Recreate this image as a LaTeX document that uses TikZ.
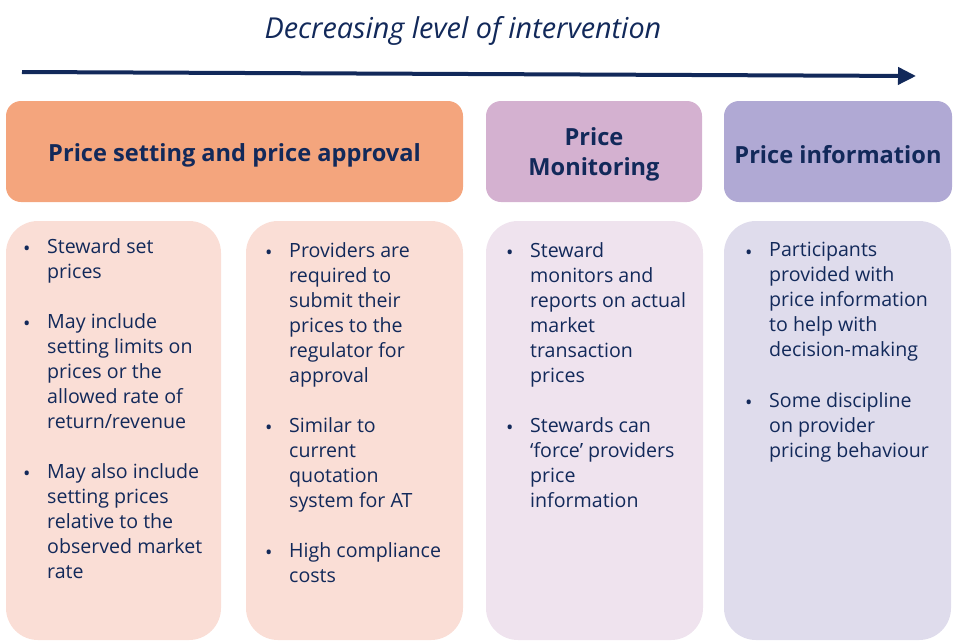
\documentclass[tikz,border=0pt]{standalone}
\usepackage{fontspec}
\setmainfont{Open Sans}
\usetikzlibrary{arrows.meta}
\definecolor{navy}{HTML}{12295A}
\definecolor{hOrange}{HTML}{F4A57D}
\definecolor{hMauve}{HTML}{D4B1D0}
\definecolor{hLav}{HTML}{B0A9D4}
\definecolor{bPink}{HTML}{FADED6}
\definecolor{bMauve}{HTML}{EFE3EE}
\definecolor{bLav}{HTML}{DFDCEC}
\tikzset{
  head/.style={rounded corners=15pt, draw=none},
  body/.style={rounded corners=32pt, draw=none},
  htxt/.style={text=navy, font=\bfseries\fontsize{23.6}{30}\selectfont, align=center, inner sep=0pt},
  txt/.style={text=navy, font=\fontsize{19.6}{25}\selectfont, align=left, anchor=north west, inner sep=0pt},
  bul/.style={text=navy, font=\fontsize{19.6}{25}\selectfont, anchor=north west, inner sep=0pt},
}
\newcommand\itm[4]{%
  \node[bul] (#1b) at (#2,#3) {\strut\textbullet};
  \node[txt] (#1) at ({#2+24},#3) {#4};
}
\begin{document}
\begin{tikzpicture}[x=1pt,y=-1pt]
\useasboundingbox (0,0) rectangle (960,643);
% title
\node[text=navy, font=\itshape\fontsize{28.8}{32}\selectfont, inner sep=0pt] (title) at (463,31) {Decreasing level of intervention};
% arrow
\coordinate (as) at (22,72);
\coordinate (ae) at (916,76);
\draw[navy, line width=4pt, -{Triangle[length=18pt,width=17pt]}] (as) -- (ae);
% headers
\fill[hOrange, head] (6,101) rectangle (463,202);
\fill[hMauve, head] (486,101) rectangle (702,202);
\fill[hLav, head] (724,101) rectangle (952,202);
\node[htxt] (h1) at (234.5,155) {Price setting and price approval};
\node[htxt] (h2) at (594,154) {Price\\Monitoring};
\node[htxt] (h3) at (838,155) {Price information};
% bodies
\fill[bPink, body] (6,221) rectangle (221,640);
\fill[bPink, body] (246,221) rectangle (463,640);
\fill[bMauve, body] (486,221) rectangle (703,640);
\fill[bLav, body] (724,221) rectangle (951,640);
% box 1
\itm{a1}{23}{238}{Steward set\\prices}
\itm{a2}{23}{313}{May include\\setting limits on\\prices or the\\allowed rate of\\return/revenue}
\itm{a3}{23}{463}{May also include\\setting prices\\relative to the\\observed market\\rate}
% box 2
\itm{b1}{265}{242}{Providers are\\required to\\submit their\\prices to the\\regulator for\\approval}
\itm{b2}{265}{417}{Similar to\\current\\quotation\\system for AT}
\itm{b3}{265}{542}{High compliance\\costs}
% box 3
\itm{c1}{506}{242}{Steward\\monitors and\\reports on actual\\market\\transaction\\prices}
\itm{c2}{506}{417}{Stewards can\\‘force’ providers\\price\\information}
% box 4
\itm{d1}{745}{242}{Participants\\provided with\\price information\\to help with\\decision-making}
\itm{d2}{745}{392}{Some discipline\\on provider\\pricing behaviour}
\end{tikzpicture}
\end{document}
